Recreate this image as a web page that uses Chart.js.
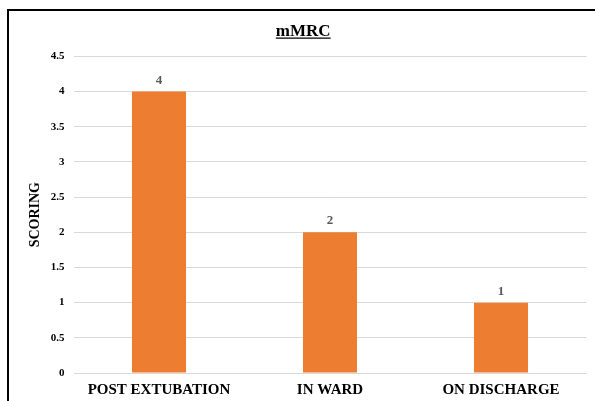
<!DOCTYPE html>
<html>
<head>
<meta charset="utf-8">
<script src="https://cdn.jsdelivr.net/npm/chart.js@4/dist/chart.umd.min.js"></script>
<style>
  html, body { margin: 0; padding: 0; background: #ffffff; }
  #wrap { width: 595px; height: 401px; }
</style>
</head>
<body>
<div id="wrap"><canvas id="c" width="595" height="401"></canvas></div>
<script>
// Stages of assessment and their mMRC dyspnoea scores
const categories = ['POST EXTUBATION', 'IN WARD', 'ON DISCHARGE'];
const scores = [4, 2, 1];
const yTicks = [0, 0.5, 1, 1.5, 2, 2.5, 3, 3.5, 4, 4.5];

const SERIF = '"Liberation Serif", "Times New Roman", serif';

// Frame around the figure plus the underline below the title
const framePlugin = {
  id: 'frame',
  beforeDraw(chart) {
    const ctx = chart.ctx;
    ctx.save();
    ctx.fillStyle = '#ffffff';
    ctx.fillRect(0, 0, chart.width, chart.height);
    ctx.strokeStyle = '#000000';
    ctx.lineWidth = 2;
    ctx.strokeRect(8, 10, chart.width + 40, chart.height + 40);
    ctx.restore();
  },
  afterDraw(chart) {
    const tb = chart.titleBlock;
    if (!tb) return;
    const ctx = chart.ctx;
    const opts = chart.options.plugins.title;
    ctx.save();
    ctx.font = 'bold ' + opts.font.size + 'px ' + SERIF;
    const w = ctx.measureText(opts.text).width;
    const cx = tb.left + tb.width / 2;
    const y = tb.top + opts.padding.top + opts.font.size * 1.2 / 2 + 7;
    ctx.strokeStyle = '#000000';
    ctx.lineWidth = 1.3;
    ctx.beginPath();
    ctx.moveTo(cx - w / 2, y);
    ctx.lineTo(cx + w / 2, y);
    ctx.stroke();
    ctx.restore();
  }
};

// Value written above each bar
const valueLabels = {
  id: 'valueLabels',
  afterDatasetsDraw(chart) {
    const ctx = chart.ctx;
    const meta = chart.getDatasetMeta(0);
    ctx.save();
    ctx.font = 'bold 13px ' + SERIF;
    ctx.fillStyle = '#595959';
    ctx.textAlign = 'center';
    ctx.textBaseline = 'alphabetic';
    meta.data.forEach((bar, i) => {
      ctx.fillText(String(scores[i]), bar.x, bar.y - 8);
    });
    ctx.restore();
  }
};

new Chart(document.getElementById('c'), {
  type: 'bar',
  data: {
    labels: categories,
    datasets: [{
      data: scores,
      backgroundColor: '#ED7D31',
      borderWidth: 0,
      categoryPercentage: 1.0,
      barPercentage: 0.316
    }]
  },
  options: {
    responsive: false,
    animation: false,
    layout: { padding: { left: 20, right: 8.5, top: 0, bottom: 0 } },
    plugins: {
      legend: { display: false },
      tooltip: { enabled: false },
      title: {
        display: true,
        text: 'mMRC',
        color: '#000000',
        font: { family: SERIF, size: 17, weight: 'bold' },
        padding: { top: 21, bottom: 15 }
      }
    },
    scales: {
      x: {
        grid: { display: false, drawTicks: false },
        border: { display: false },
        ticks: {
          color: '#000000',
          font: { family: SERIF, size: 15, weight: 'bold' },
          padding: 8,
          maxRotation: 0
        },
        afterFit(scale) { scale.height = 28; }
      },
      y: {
        min: 0,
        max: 4.5,
        afterBuildTicks(scale) { scale.ticks = yTicks.map(v => ({ value: v })); },
        grid: { color: '#d9d9d9', lineWidth: 1, drawTicks: false },
        border: { display: false },
        ticks: {
          color: '#000000',
          font: { family: SERIF, size: 11, weight: 'bold' },
          padding: 9,
          callback: (v) => String(v)
        },
        title: {
          display: true,
          text: 'SCORING',
          color: '#000000',
          font: { family: SERIF, size: 14, weight: 'bold' },
          padding: { top: 7, bottom: 0 }
        },
        afterFit(scale) { scale.width = 53.5; }
      }
    }
  },
  plugins: [framePlugin, valueLabels]
});
</script>
</body>
</html>
